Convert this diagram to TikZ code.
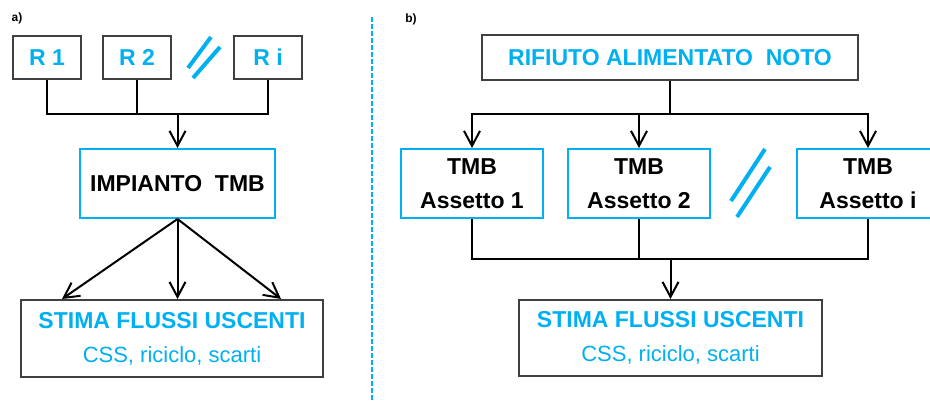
\documentclass[tikz,border=0pt]{standalone}
\usepackage{fontspec}
\setmainfont{Liberation Sans}
\usetikzlibrary{calc,
arrows.meta,
positioning}
\definecolor{lightblue}{HTML}{00B0F0}
\definecolor{boxgrey}{HTML}{404040}

\begin{document}
\begin{tikzpicture} [x = .5pt, y = -.5pt,
  ->,
  >={Straight Barb[length = 7.5pt, width = 8pt]},
  line width = 1pt,
  grey box/.style={rectangle, draw = boxgrey, fill = white,
      align = center, inner sep = 0pt, text = lightblue,
      font = \fontsize{11.5}{17}\selectfont\bfseries},
  blue box/.style={rectangle, draw = lightblue, fill = white,
      align = center, inner sep = 0pt, text = black,
      font = \fontsize{11.5}{17}\selectfont\bfseries},
  panel label/.style={inner sep = 0pt, font = \fontsize{6}{7}\selectfont\bfseries},
  slash/.style={-, draw = lightblue, line width = 2pt}]

  \useasboundingbox (0, 0) rectangle (930, 401);

  % ---- a) ----
  \node [panel label] (laba) at (17, 18) {a)};

  \node [grey box,
    minimum width = 34pt,
    minimum height = 21.5pt
  ] (r1) at (47, 57.5) {R 1};

  \node [grey box,
    minimum width = 34pt,
    minimum height = 21.5pt,
    right = 10pt of r1
  ] (r2) {R 2};

  \node [grey box,
    minimum width = 34pt,
    minimum height = 21.5pt
  ] (ri) at (268, 57.5) {R i};

  \draw [slash] (188, 68) -- (211, 37);
  \draw [slash] (193, 78) -- (220, 47);

  \node [blue box,
    minimum width = 97.5pt,
    minimum height = 34.5pt
  ] (imp) at (177.5, 183.5) {IMPIANTO\ \ TMB};

  \coordinate (ja) at (imp.north |- 0, 114);
  \draw [-] (r1.south) |- (ja);
  \draw [-] (ri.south) |- (ja);
  \draw [-] (r2.south) -- (r2.south |- ja);
  \draw (ja) -- (imp.north);

  \node [grey box,
    minimum width = 151pt,
    minimum height = 38.5pt
  ] (stimaa) at (172, 338.5) {STIMA FLUSSI USCENTI\\
    {\mdseries\fontsize{11}{17}\selectfont CSS, riciclo, scarti}};

  \draw (imp.south) -- ($(stimaa.north west) + (42, 0)$);
  \draw (imp.south) -- (imp.south |- stimaa.north);
  \draw (imp.south) -- ($(stimaa.north east) + (-43, 0)$);

  % divider
  \coordinate (divtop) at (372, 17);
  \coordinate (divbot) at (372, 401);
  \draw [-, lightblue, line width = .75pt, dash pattern = on 2.5pt off 1pt] (divtop) -- (divbot);

  % ---- b) ----
  \node [panel label] (labb) at (411, 19) {b)};

  \node [grey box,
    minimum width = 188pt,
    minimum height = 22.5pt
  ] (rif) at (670, 57.5) {RIFIUTO ALIMENTATO\ \ NOTO};

  \node [blue box,
    minimum width = 71pt,
    minimum height = 34.5pt
  ] (tmb1) at (472, 183.5) {TMB\\Assetto 1};

  \node [blue box,
    minimum width = 71pt,
    minimum height = 34.5pt,
    right = 11.5pt of tmb1
  ] (tmb2) {TMB\\Assetto 2};

  \node [blue box,
    minimum width = 71pt,
    minimum height = 34.5pt
  ] (tmbi) at (868, 183.5) {TMB\\Assetto i};

  \draw [slash] (731, 201) -- (765, 149);
  \draw [slash] (737, 217) -- (770, 167);

  \coordinate (jb) at (rif.south |- 0, 114);
  \draw [-] (rif.south) -- (jb);
  \draw (jb) -| (tmb1.north);
  \draw (jb) -| (tmbi.north);
  \draw (tmb2.north |- jb) -- (tmb2.north);

  \node [grey box,
    minimum width = 151.5pt,
    minimum height = 38pt
  ] (stimab) at (670.5, 338) {STIMA FLUSSI USCENTI\\
    {\mdseries\fontsize{11}{17}\selectfont CSS, riciclo, scarti}};

  \coordinate (kb) at (stimab.north |- 0, 259);
  \draw [-] (tmb1.south) |- (kb);
  \draw [-] (tmbi.south) |- (kb);
  \draw [-] (tmb2.south) -- (tmb2.south |- kb);
  \draw (kb) -- (stimab.north);

\end{tikzpicture}
\end{document}
